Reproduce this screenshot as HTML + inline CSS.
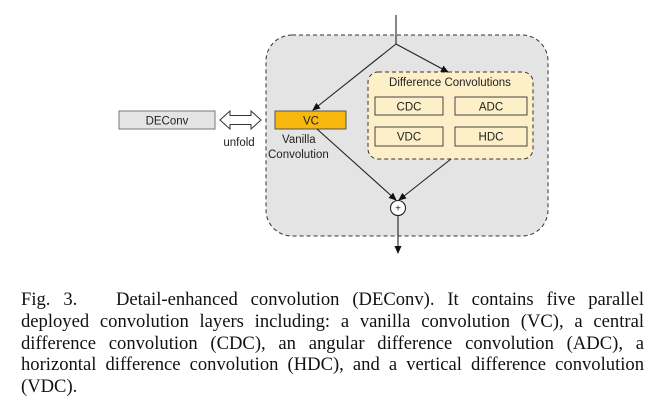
<!DOCTYPE html>
<html><head><style>
html,body{margin:0;padding:0;background:#fff;}
.cap{position:absolute;left:21px;width:623px;top:289px;font-family:"Liberation Serif",serif;font-size:18.6px;line-height:21.8px;color:#111;}
.cap div{text-align:justify;text-align-last:justify;white-space:nowrap;}
.cap div.l{text-align-last:left;}
</style></head><body>
<div style="position:relative;width:664px;height:408px;overflow:hidden">
<svg width="664" height="270" style="position:absolute;left:0;top:0" font-family="Liberation Sans, sans-serif">
<defs><marker id="a" markerWidth="8" markerHeight="8" refX="7" refY="4" orient="auto" markerUnits="userSpaceOnUse"><path d="M0,0.5 L8,4 L0,7.5z" fill="#111"/></marker></defs>
<rect x="266" y="35" width="282" height="201" rx="26" fill="#e4e4e4" stroke="#333" stroke-width="1" stroke-dasharray="4,3"/>
<rect x="368" y="72" width="165" height="87" rx="10" fill="#fdefc8" stroke="#333" stroke-width="1" stroke-dasharray="4,3"/>
<text x="450" y="86" font-size="11.5" text-anchor="middle" fill="#222">Difference Convolutions</text>
<g fill="#fdefc8" stroke="#444" stroke-width="1">
<rect x="375" y="97" width="68" height="18"/><rect x="455" y="97" width="72" height="18"/>
<rect x="375" y="127" width="68" height="19"/><rect x="455" y="127" width="72" height="19"/>
</g>
<g font-size="11.5" text-anchor="middle" fill="#222">
<text x="409" y="110.5">CDC</text><text x="491" y="110.5">ADC</text>
<text x="409" y="140.5">VDC</text><text x="491" y="140.5">HDC</text>
</g>
<rect x="275" y="111" width="71" height="18" fill="#f8b80e" stroke="#555" stroke-width="1"/>
<text x="311" y="124.5" font-size="11.5" text-anchor="middle" fill="#222">VC</text>
<text x="282" y="143" font-size="11.5" fill="#222">Vanilla</text>
<text x="268" y="158" font-size="11.5" fill="#222">Convolution</text>
<rect x="119" y="111" width="96" height="18" fill="#e4e4e4" stroke="#777" stroke-width="1"/>
<text x="167" y="124.5" font-size="11.5" text-anchor="middle" fill="#222">DEConv</text>
<path d="M220,120 L230,111 L230,115.5 L251,115.5 L251,111 L261,120 L251,129 L251,124.5 L230,124.5 L230,129z" fill="#fff" stroke="#333" stroke-width="1"/>
<text x="239" y="146" font-size="11.5" text-anchor="middle" fill="#222">unfold</text>
<g stroke="#222" stroke-width="1.1" fill="none">
<line x1="396" y1="15" x2="396" y2="44"/>
<line x1="396" y1="44" x2="313" y2="110" marker-end="url(#a)"/>
<line x1="396" y1="44" x2="448" y2="72" marker-end="url(#a)"/>
<line x1="317" y1="129" x2="396" y2="200" marker-end="url(#a)"/>
<line x1="451" y1="159" x2="399" y2="200" marker-end="url(#a)"/>
<circle cx="398" cy="208" r="7.5" fill="#fff"/>
<line x1="398" y1="215.5" x2="398" y2="253" marker-end="url(#a)"/>
</g>
<text x="398" y="211.5" font-size="10" text-anchor="middle" fill="#222">+</text>
</svg>
<div class="cap">
<div>Fig. 3.&nbsp;&nbsp; Detail-enhanced convolution (DEConv). It contains five parallel</div>
<div>deployed convolution layers including: a vanilla convolution (VC), a central</div>
<div>difference convolution (CDC), an angular difference convolution (ADC), a</div>
<div>horizontal difference convolution (HDC), and a vertical difference convolution</div>
<div class="l">(VDC).</div>
</div>
</div>
</body></html>
